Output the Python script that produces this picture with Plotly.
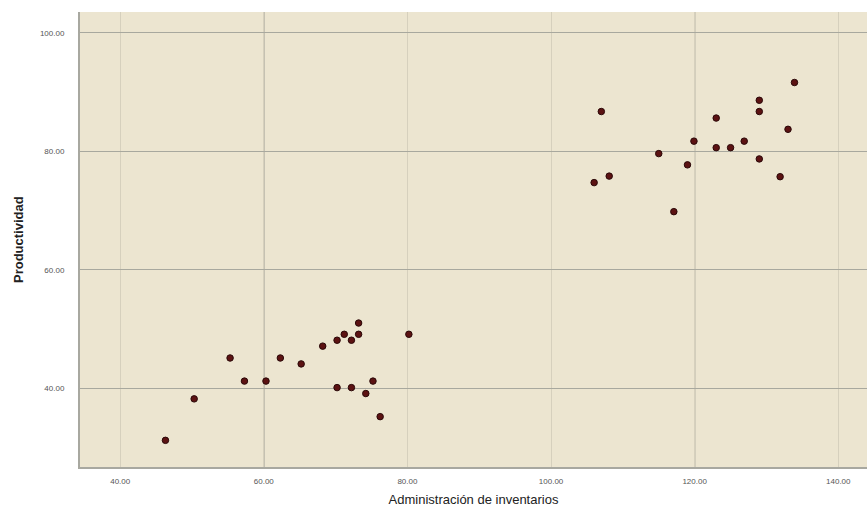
import plotly.graph_objects as go

# Data
inventarios = [46.3, 50.3, 55.3, 57.3, 60.3, 62.3, 65.2, 68.2, 70.2, 71.2,
               72.2, 73.2, 73.2, 70.2, 72.2, 74.2, 75.2, 76.2, 80.2,
               107.0, 106.0, 108.1, 115.0, 119.0, 117.1, 119.9, 123.0, 123.0,
               125.0, 126.9, 129.0, 129.0, 129.0, 131.9, 133.0, 133.9]
productividad = [31.2, 38.2, 45.1, 41.2, 41.2, 45.1, 44.1, 47.1, 48.1, 49.1,
                 48.1, 49.1, 51.0, 40.1, 40.1, 39.1, 41.2, 35.2, 49.1,
                 86.7, 74.7, 75.8, 79.6, 77.7, 69.8, 81.7, 85.6, 80.6,
                 80.6, 81.7, 88.6, 86.7, 78.7, 75.7, 83.7, 91.6]

x_ticks = [40, 60, 80, 100, 120, 140]
x_tick_labels = ["40.00", "60.00", "80.00", "100.00", "120.00", "140.00"]
y_ticks = [40, 60, 80, 100]
y_tick_labels = ["40.00", "60.00", "80.00", "100.00"]
dark_x_grid = [60, 120]

fig = go.Figure()
fig.add_trace(go.Scatter(
    x=inventarios, y=productividad, mode="markers",
    marker=dict(size=6.5, color="#5c1212", line=dict(color="#2a0808", width=1)),
    showlegend=False,
))

for xv in dark_x_grid:
    fig.add_shape(type="line", xref="x", yref="paper", x0=xv, x1=xv, y0=0, y1=1,
                  line=dict(color="#9a9a90", width=1.3), layer="below")

fig.add_annotation(
    text="<b>Productividad</b>", xref="paper", yref="paper", x=0, y=0.5,
    xshift=-71, textangle=-90, showarrow=False,
    font=dict(size=13, color="#222"),
)

fig.update_layout(
    width=867, height=520,
    margin=dict(l=80, r=0, t=12, b=53),
    paper_bgcolor="white",
    plot_bgcolor="#ece5d0",
    font=dict(family="Liberation Sans, Arial, sans-serif", color="#222"),
    xaxis=dict(
        range=[34.4, 144], tickvals=x_ticks, ticktext=x_tick_labels,
        showgrid=True, gridcolor="#d6d0bd", gridwidth=1, zeroline=False,
        showline=True, linecolor="#a8a8a0", linewidth=2, automargin=False,
        tickfont=dict(size=8, color="#555"), ticks="", ticklabelstandoff=5,
        title=dict(text="Administración de inventarios", font=dict(size=13, color="#222"), standoff=10),
    ),
    yaxis=dict(
        range=[26.7, 103.5], tickvals=y_ticks, ticktext=y_tick_labels,
        showgrid=True, gridcolor="#a8a89e", gridwidth=1, zeroline=False,
        showline=True, linecolor="#a8a8a0", linewidth=2, automargin=False,
        tickfont=dict(size=8, color="#555"), ticks="", ticklabelstandoff=12,
    ),
)

fig.write_html("out.html", config={"displayModeBar": False},
               post_script="document.body.style.margin='0';")
